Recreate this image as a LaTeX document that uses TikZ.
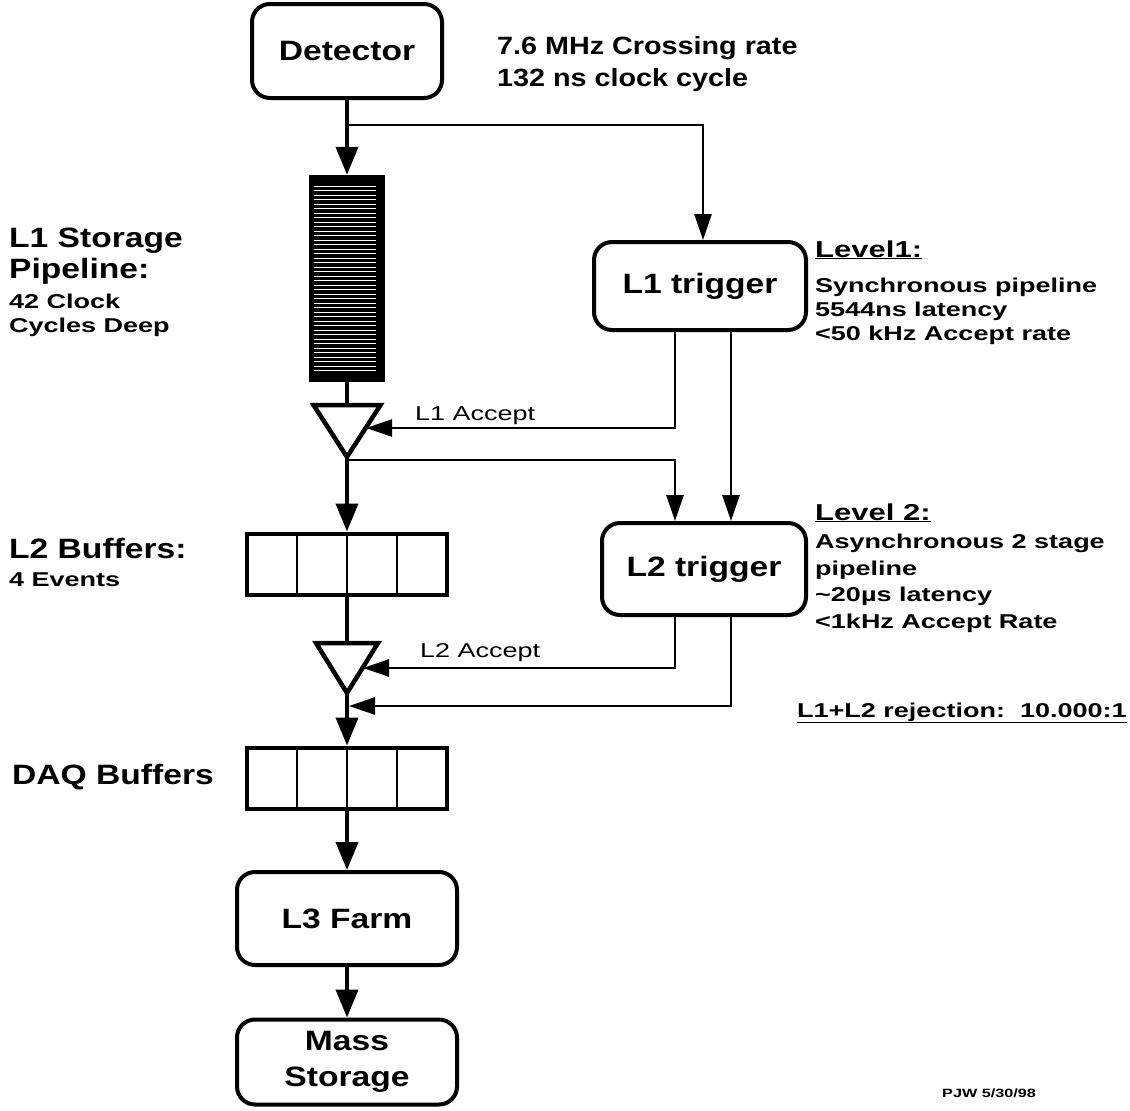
\documentclass[tikz,border=0pt]{standalone}
\usepackage{fontspec}
\setmainfont{Liberation Sans}
\newfontfamily\fbig[FakeStretch=1.15]{Liberation Sans}
\newfontfamily\fmidsans[FakeStretch=1.2]{Liberation Sans}
\newfontfamily\fsmall[FakeStretch=1.35]{Liberation Sans}
\usetikzlibrary{arrows.meta}
\begin{document}
\begin{tikzpicture}[x=1pt,y=-1pt,
  bigtxt/.style={font=\fmidsans\bfseries\fontsize{28}{31}\selectfont},
  toptxt/.style={font=\fbig\bfseries\fontsize{25}{32}\selectfont},
  smalltxt/.style={font=\fsmall\bfseries\fontsize{20}{24}\selectfont},
  headtxt/.style={font=\fsmall\bfseries\fontsize{23}{26}\selectfont},
  acctxt/.style={font=\fsmall\fontsize{20}{24}\selectfont},
  lbl/.style={anchor=base west, inner sep=0pt, align=left},
  box/.style={draw, line width=4pt, rounded corners=18pt, inner sep=0pt, align=center,
    font=\fmidsans\bfseries\fontsize{28}{36}\selectfont},
  buf/.style={draw, line width=4pt, inner sep=0pt, minimum width=200pt, minimum height=61pt},
  thickarr/.style={line width=4pt, -{Triangle[length=28pt,width=22pt]}},
  thickline/.style={line width=4pt},
  thinarr/.style={line width=2.6pt, -{Triangle[length=26pt,width=17pt]}},
  tri/.style={line width=4.5pt, line join=miter}
]
\useasboundingbox (0,0) rectangle (1130,1111);
\fill[white] (0,0) rectangle (1130,1111);

% ---------- main column nodes ----------
\node[box, minimum width=190pt, minimum height=94pt] (det) at (347,51) {Detector};
\node[fill=black, inner sep=0pt, minimum width=76pt, minimum height=207pt] (pipe) at (347,278.5) {};
\foreach \i in {0,...,41}
  \draw[white, line width=0.9pt] (314,186+\i*4.5) -- (376,186+\i*4.5);

\coordinate (t1top) at (347,405);
\coordinate (t1bot) at (347,457);
\draw[tri] (313.5,405) -- (380.5,405) -- (t1bot) -- cycle;

\node[buf] (l2buf) at (347,564) {};
\draw[line width=2.6pt] (297,564-30.5) -- (297,564+30.5);
\draw[line width=2.6pt] (347,564-30.5) -- (347,564+30.5);
\draw[line width=2.6pt] (397,564-30.5) -- (397,564+30.5);

\coordinate (t2top) at (347,643);
\coordinate (t2bot) at (347,693);
\draw[tri] (316,643) -- (378,643) -- (t2bot) -- cycle;

\node[buf] (daqbuf) at (347,778) {};
\draw[line width=2.6pt] (297,778-30.5) -- (297,778+30.5);
\draw[line width=2.6pt] (347,778-30.5) -- (347,778+30.5);
\draw[line width=2.6pt] (397,778-30.5) -- (397,778+30.5);

\node[box, minimum width=220pt, minimum height=93pt] (l3) at (347,918.5) {L3 Farm};
\node[box, minimum width=220pt, minimum height=85pt] (mass) at (347,1062) {Mass\\Storage};

% ---------- trigger boxes ----------
\node[box, minimum width=212pt, minimum height=88pt] (l1t) at (700,286) {L1 trigger};
\node[box, minimum width=204pt, minimum height=92pt] (l2t) at (704,569) {L2 trigger};

% ---------- helper coordinates ----------
\coordinate (xbr) at (703,0);
\coordinate (xa) at (675,0);
\coordinate (xb) at (731,0);
\coordinate (br1) at (347,125);
\coordinate (br2) at (347,460);
\coordinate (t1r) at (366,428);
\coordinate (t2r) at (363,668);
\coordinate (m706) at (349,706);

% ---------- connectors ----------
\draw[thickarr] (det.south) -- (pipe.north);
\draw[thinarr] (br1) -| (l1t.north -| xbr);
\draw[thickline] (pipe.south) -- (t1top);
\draw[thickarr] (t1bot) -- (l2buf.north);
\draw[thinarr] (br2) -| (l2t.north -| xa);
\draw[thinarr] (l1t.south -| xa) |- (t1r);
\draw[thinarr] (l1t.south -| xb) -- (l2t.north -| xb);
\draw[thickline] (l2buf.south) -- (t2top);
\draw[thickarr] (t2bot) -- (daqbuf.north);
\draw[thinarr] (l2t.south -| xa) |- (t2r);
\draw[thinarr] (l2t.south -| xb) |- (m706);
\draw[thickarr] (daqbuf.south) -- (l3.north);
\draw[thickarr] (l3.south) -- (mass.north);

% ---------- labels (multi-line nodes are placed at the baseline of their last line) ----------
\node[lbl, toptxt] (rate) at (497,86) {7.6 MHz Crossing rate\\132 ns clock cycle};

\node[lbl, bigtxt] (l1st) at (9,278) {L1 Storage\\Pipeline:};
\node[lbl, smalltxt] (l1dp) at (9,332) {42 Clock\\Cycles Deep};

\node[lbl, bigtxt] (l2bl) at (9,558) {L2 Buffers:};
\node[lbl, smalltxt] (l2ev) at (9,586) {4 Events};
\node[lbl, bigtxt] (daql) at (12,784) {DAQ Buffers};

\node[lbl, acctxt] (l1acc) at (415,420) {L1 Accept};
\node[lbl, acctxt] (l2acc) at (420,657) {L2 Accept};

\node[lbl, headtxt] (lev1) at (815,257) {\underline{Level1:}};
\node[lbl, smalltxt] (lev1t) at (815,340) {Synchronous pipeline\\5544ns latency\\<50 kHz Accept rate};

\node[lbl, headtxt] (lev2) at (815,520) {\underline{Level 2:}};
\node[lbl, smalltxt, font=\fsmall\bfseries\fontsize{20}{26.5}\selectfont] (lev2t) at (815,628) {Asynchronous 2 stage\\pipeline\\\textasciitilde20\textmu s latency\\<1kHz Accept Rate};

\node[lbl, smalltxt] (rej) at (797,717) {\underline{L1+L2 rejection:\ \ 10.000:1}};

\node[lbl, font=\fsmall\bfseries\fontsize{12}{14}\selectfont] (pjw) at (942,1097) {PJW 5/30/98};
\end{tikzpicture}
\end{document}
